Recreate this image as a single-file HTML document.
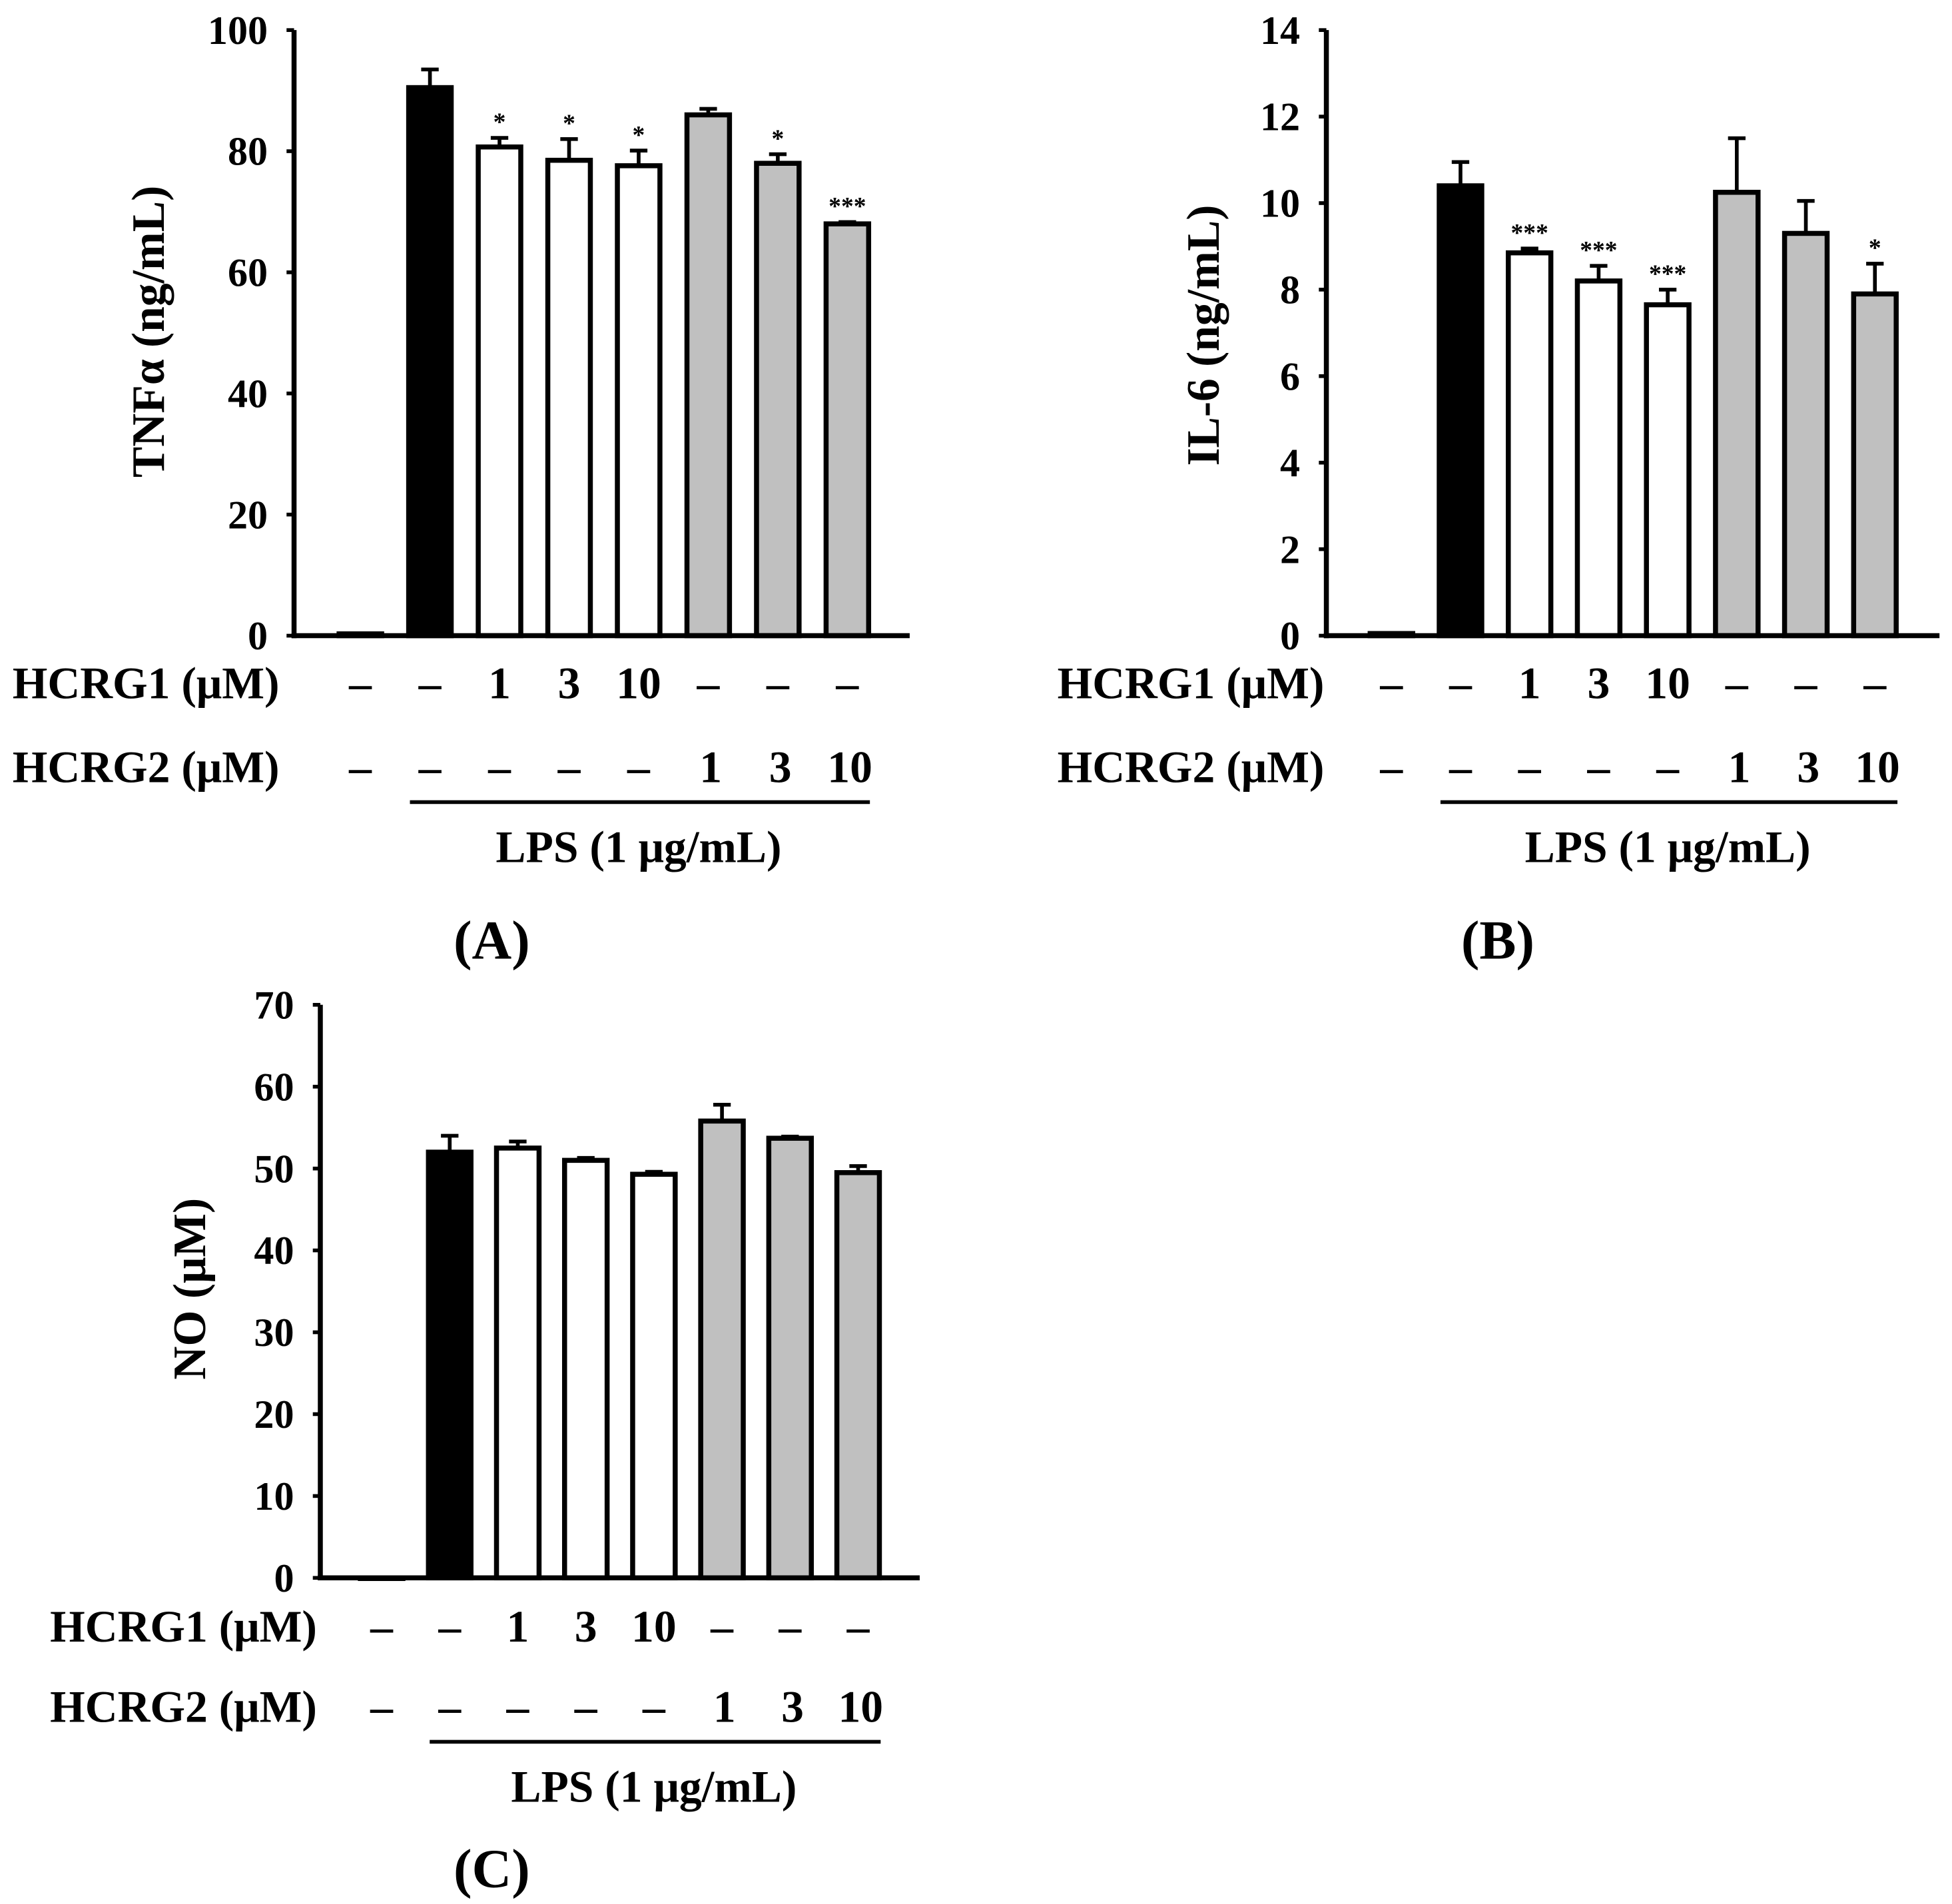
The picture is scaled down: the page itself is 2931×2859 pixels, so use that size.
<!DOCTYPE html>
<html><head><meta charset="utf-8"><style>
html,body{margin:0;padding:0;background:#fff}
svg{display:block}
text{font-family:"Liberation Serif",serif;font-weight:bold;fill:#000}
</style></head><body>
<svg id="fig" width="2931" height="2859" viewBox="0 0 1560 1521.6" xmlns="http://www.w3.org/2000/svg"></svg>
<script>
const tnfValues=[0.3,90.5,80.7,78.5,77.6,86,78,68];
const tnfErrors=[0,3,1.5,3.5,2.5,1,1.5,0.3];
const tnfStars=["","","*","*","*","","*","***"];
const tnfTicks=[0,20,40,60,80,100];
const il6Values=[0.05,10.4,8.85,8.2,7.65,10.25,9.3,7.9];
const il6Errors=[0,0.55,0.1,0.35,0.35,1.25,0.75,0.7];
const il6Stars=["","","***","***","***","","","*"];
const il6Ticks=[0,2,4,6,8,10,12,14];
const noValues=[0,52,52.5,51,49.3,55.8,53.7,49.5];
const noErrors=[0,2,0.8,0.3,0.3,2,0.2,0.8];
const noStars=["","","","","","","",""];
const noTicks=[0,10,20,30,40,50,60,70];
const hcrg1Labels=["–","–","1","3","10","–","–","–"];
const hcrg2Labels=["–","–","–","–","–","1","3","10"];
const fills=["#000","#000","#fff","#fff","#fff","#c0c0c0","#c0c0c0","#c0c0c0"];

const svg=document.getElementById('fig');
const NS="http://www.w3.org/2000/svg";
function el(tag,attrs,parent){const e=document.createElementNS(NS,tag);for(const k in attrs)e.setAttribute(k,attrs[k]);(parent||svg).appendChild(e);return e;}
function txt(s,attrs,parent){const t=el('text',attrs,parent);t.textContent=s;return t;}

function panel(cfg){
  const g=el('g',{});
  
  
  const ymax=cfg.ticks[cfg.ticks.length-1];
  const y=v=>cfg.y0-(v/ymax)*(cfg.y0-cfg.y1);
  const x=i=>cfg.x0+i*cfg.step;
  const ya=el('line',{x1:cfg.ax,y1:cfg.y1,x2:cfg.ax,y2:cfg.y0+2,stroke:'#000','stroke-width':4},g);
  
  
  cfg.ticks.forEach(t=>{
    el('line',{x1:cfg.ax-6,y1:y(t),x2:cfg.ax,y2:y(t),stroke:'#000','stroke-width':3},g);
    const tl=txt(String(t),{x:cfg.ax-21,y:y(t)+11,'font-size':32,'text-anchor':'end'},g);
    
    
  });
  cfg.values.forEach((v,i)=>{
    const bw=34;
    const cx=x(i);
    const r=el('rect',{x:cx-bw/2,y:y(v),width:bw,height:Math.max(cfg.y0-y(v),0.5),fill:fills[i],stroke:'#000','stroke-width':4},g);
    
    
    const e=cfg.errors[i];
    if(e>0){
      el('line',{x1:cx,y1:y(v),x2:cx,y2:y(v+e),stroke:'#000','stroke-width':3},g);
      el('line',{x1:cx-7,y1:y(v+e),x2:cx+7,y2:y(v+e),stroke:'#000','stroke-width':3},g);
    }
    if(cfg.stars[i]){
      const st=txt(cfg.stars[i],{x:cx,y:y(v+e)-6,'font-size':20,'text-anchor':'middle','font-weight':'normal'},g);
      
      
    }
    const l1=txt(hcrg1Labels[i],{x:cx,y:cfg.r1,'font-size':36,'text-anchor':'middle'},g);
    
    
    const l2=txt(hcrg2Labels[i],{x:cx+(i>=5?2:0),y:cfg.r2,'font-size':36,'text-anchor':'middle'},g);
    
    
  });
  const xa=el('line',{x1:cfg.ax-2,y1:cfg.y0,x2:cfg.axEnd,y2:cfg.y0,stroke:'#000','stroke-width':4},g);
  
  
  const yt=txt(cfg.title,{x:0,y:0,'font-size':37,'text-anchor':'middle',transform:`translate(${cfg.tx},${cfg.ty}) rotate(-90)`},g);
  
  
  const h1=txt('HCRG1 (μM)',{x:cfg.lx,y:cfg.r1,'font-size':36},g);
  
  
  const h2=txt('HCRG2 (μM)',{x:cfg.lx,y:cfg.r2,'font-size':36},g);
  
  
  el('line',{x1:x(1)-16,y1:cfg.r2+16,x2:x(7)+18,y2:cfg.r2+16,stroke:'#000','stroke-width':3},g);
  const lp=txt('LPS (1 μg/mL)',{x:(x(1)+x(7))/2,y:cfg.r2+64,'font-size':36,'text-anchor':'middle'},g);
  
  
  const pl=txt(cfg.letter,{x:cfg.px,y:cfg.py,'font-size':44,'text-anchor':'middle'},g);
  
  
}
panel({name:'tnf-chart',values:tnfValues,errors:tnfErrors,stars:tnfStars,ticks:tnfTicks,ax:235,axEnd:727,y0:508,y1:24,x0:288,step:55.6,r1:558,r2:625,tx:131,ty:265,lx:10,title:'TNFα (ng/mL)',letter:'(A)',px:393,py:766});
panel({name:'il6-chart',values:il6Values,errors:il6Errors,stars:il6Stars,ticks:il6Ticks,ax:1060,axEnd:1550,y0:508,y1:24,x0:1112,step:55.2,r1:558,r2:625,tx:974,ty:268,lx:845,title:'IL-6 (ng/mL)',letter:'(B)',px:1197,py:766});
panel({name:'no-chart',values:noValues,errors:noErrors,stars:noStars,ticks:noTicks,ax:256,axEnd:735,y0:1261,y1:803,x0:305,step:54.4,r1:1312,r2:1376,tx:164,ty:1030,lx:40,title:'NO (μM)',letter:'(C)',px:393,py:1508});
</script>
</body></html>
